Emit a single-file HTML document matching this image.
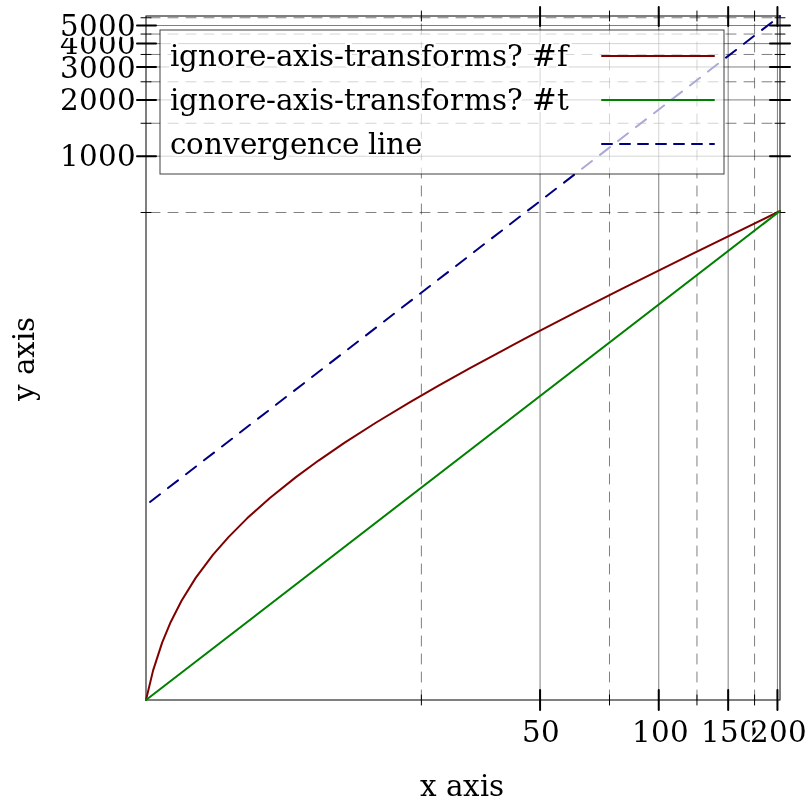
<!DOCTYPE html>
<html><head><meta charset="utf-8"><title>plot</title>
<style>
html,body{margin:0;padding:0;background:#fff;overflow:hidden;}
svg{display:block;}
.t text{font-family:'DejaVu Serif','Liberation Serif',serif;font-size:29.33px;fill:#000;text-shadow:-2px -2px 0 #fff,-2px 0px 0 #fff,-2px 2px 0 #fff,0px -2px 0 #fff,0px 2px 0 #fff,2px -2px 0 #fff,2px 0px 0 #fff,2px 2px 0 #fff;}
</style>
</head><body>
<svg width="812" height="812" viewBox="0 0 812 812">
<rect x="0" y="0" width="812" height="812" fill="#fff"/>
<clipPath id="pc"><rect x="145.0" y="15.0" width="637.0" height="687.0"/></clipPath>
<rect x="146.0" y="16.0" width="634.0" height="684.0" fill="none" stroke="#000" stroke-width="1"/>
<g stroke="#000" stroke-linecap="round">
<line x1="540.07" y1="690.0" x2="540.07" y2="710.0" stroke-width="2"/>
<line x1="540.07" y1="7.0" x2="540.07" y2="26.0" stroke-width="2"/>
<line x1="658.75" y1="690.0" x2="658.75" y2="710.0" stroke-width="2"/>
<line x1="658.75" y1="7.0" x2="658.75" y2="26.0" stroke-width="2"/>
<line x1="728.17" y1="690.0" x2="728.17" y2="710.0" stroke-width="2"/>
<line x1="728.17" y1="7.0" x2="728.17" y2="26.0" stroke-width="2"/>
<line x1="777.43" y1="690.0" x2="777.43" y2="710.0" stroke-width="2"/>
<line x1="777.43" y1="7.0" x2="777.43" y2="26.0" stroke-width="2"/>
<line x1="421.39" y1="695.0" x2="421.39" y2="705.0" stroke-width="1"/>
<line x1="421.39" y1="11.0" x2="421.39" y2="21.0" stroke-width="1"/>
<line x1="609.49" y1="695.0" x2="609.49" y2="705.0" stroke-width="1"/>
<line x1="609.49" y1="11.0" x2="609.49" y2="21.0" stroke-width="1"/>
<line x1="696.96" y1="695.0" x2="696.96" y2="705.0" stroke-width="1"/>
<line x1="696.96" y1="11.0" x2="696.96" y2="21.0" stroke-width="1"/>
<line x1="754.57" y1="695.0" x2="754.57" y2="705.0" stroke-width="1"/>
<line x1="754.57" y1="11.0" x2="754.57" y2="21.0" stroke-width="1"/>
<line x1="137.0" y1="156.20" x2="156.0" y2="156.20" stroke-width="2"/>
<line x1="770.0" y1="156.20" x2="790.0" y2="156.20" stroke-width="2"/>
<line x1="137.0" y1="99.91" x2="156.0" y2="99.91" stroke-width="2"/>
<line x1="770.0" y1="99.91" x2="790.0" y2="99.91" stroke-width="2"/>
<line x1="137.0" y1="66.98" x2="156.0" y2="66.98" stroke-width="2"/>
<line x1="770.0" y1="66.98" x2="790.0" y2="66.98" stroke-width="2"/>
<line x1="137.0" y1="43.62" x2="156.0" y2="43.62" stroke-width="2"/>
<line x1="770.0" y1="43.62" x2="790.0" y2="43.62" stroke-width="2"/>
<line x1="137.0" y1="25.50" x2="156.0" y2="25.50" stroke-width="2"/>
<line x1="770.0" y1="25.50" x2="790.0" y2="25.50" stroke-width="2"/>
<line x1="141.0" y1="212.49" x2="151.0" y2="212.49" stroke-width="1"/>
<line x1="775.0" y1="212.49" x2="785.0" y2="212.49" stroke-width="1"/>
<line x1="141.0" y1="123.27" x2="151.0" y2="123.27" stroke-width="1"/>
<line x1="775.0" y1="123.27" x2="785.0" y2="123.27" stroke-width="1"/>
<line x1="141.0" y1="81.79" x2="151.0" y2="81.79" stroke-width="1"/>
<line x1="775.0" y1="81.79" x2="785.0" y2="81.79" stroke-width="1"/>
<line x1="141.0" y1="54.46" x2="151.0" y2="54.46" stroke-width="1"/>
<line x1="775.0" y1="54.46" x2="785.0" y2="54.46" stroke-width="1"/>
<line x1="141.0" y1="34.05" x2="151.0" y2="34.05" stroke-width="1"/>
<line x1="775.0" y1="34.05" x2="785.0" y2="34.05" stroke-width="1"/>
<line x1="141.0" y1="17.76" x2="151.0" y2="17.76" stroke-width="1"/>
<line x1="775.0" y1="17.76" x2="785.0" y2="17.76" stroke-width="1"/>
</g>
<g class="t">
<text x="522 541" y="742">50</text>
<text x="632 651 670" y="742">100</text>
<text x="701 720 739" y="742">150</text>
<text x="750 769 788" y="742">200</text>
<text x="60 79 98 117" y="54">4000</text>
<text x="60 79 98 117" y="166">1000</text>
<text x="60 79 98 117" y="110">2000</text>
<text x="60 79 98 117" y="78">3000</text>
<text x="60 79 98 117" y="36">5000</text>
<text x="420 437 446 463 480 489" y="796">x axis</text>
<text transform="translate(34 359) rotate(-90)" x="-42 -25 -16 1 18 27" y="0">y axis</text>
</g>
<g clip-path="url(#pc)" fill="none" stroke-linecap="round" stroke-linejoin="round">
<g stroke="#000" stroke-opacity="0.5" stroke-width="1">
<line x1="540.07" y1="16.0" x2="540.07" y2="700.0"/>
<line x1="658.75" y1="16.0" x2="658.75" y2="700.0"/>
<line x1="728.17" y1="16.0" x2="728.17" y2="700.0"/>
<line x1="777.43" y1="16.0" x2="777.43" y2="700.0"/>
<line x1="421.39" y1="16.0" x2="421.39" y2="700.0" stroke-dasharray="10 8" stroke-dashoffset="10"/>
<line x1="609.49" y1="16.0" x2="609.49" y2="700.0" stroke-dasharray="10 8" stroke-dashoffset="10"/>
<line x1="696.96" y1="16.0" x2="696.96" y2="700.0" stroke-dasharray="10 8" stroke-dashoffset="10"/>
<line x1="754.57" y1="16.0" x2="754.57" y2="700.0" stroke-dasharray="10 8" stroke-dashoffset="10"/>
<line x1="146.0" y1="156.20" x2="780.0" y2="156.20"/>
<line x1="146.0" y1="99.91" x2="780.0" y2="99.91"/>
<line x1="146.0" y1="66.98" x2="780.0" y2="66.98"/>
<line x1="146.0" y1="43.62" x2="780.0" y2="43.62"/>
<line x1="146.0" y1="25.50" x2="780.0" y2="25.50"/>
<line x1="146.0" y1="212.49" x2="780.0" y2="212.49" stroke-dasharray="10 8" stroke-dashoffset="14"/>
<line x1="146.0" y1="123.27" x2="780.0" y2="123.27" stroke-dasharray="10 8" stroke-dashoffset="14"/>
<line x1="146.0" y1="81.79" x2="780.0" y2="81.79" stroke-dasharray="10 8" stroke-dashoffset="14"/>
<line x1="146.0" y1="54.46" x2="780.0" y2="54.46" stroke-dasharray="10 8" stroke-dashoffset="14"/>
<line x1="146.0" y1="34.05" x2="780.0" y2="34.05" stroke-dasharray="10 8" stroke-dashoffset="14"/>
<line x1="146.0" y1="17.76" x2="780.0" y2="17.76" stroke-dasharray="10 8" stroke-dashoffset="14"/>
</g>
<path d="M146.00 700.00 L153.11 670.37 L162.14 642.60 L170.73 621.95 L181.54 600.68 L195.68 577.88 L212.88 554.95 L228.50 537.09 L247.34 518.11 L269.88 497.98 L295.94 477.12 L318.55 460.55 L344.70 442.67 L375.79 422.76 L410.04 402.09 L438.57 385.63 L470.44 367.85 L530.02 335.93 L576.89 311.66 L624.33 287.63 L684.79 257.55 L780.00 211.00" stroke="#800000" stroke-width="2"/>
<line x1="146.0" y1="700.0" x2="780.0" y2="211.0" stroke="#008000" stroke-width="2"/>
<line x1="146.0" y1="505.05" x2="780.0" y2="16.0" stroke="#000080" stroke-width="2" stroke-dasharray="12.629 10.104" stroke-dashoffset="17.681"/>
<circle cx="780.0" cy="16.0" r="1" fill="#000080" stroke="none"/>
</g>
<rect x="160" y="30" width="564" height="144" fill="#fff" fill-opacity="0.667" stroke="#000" stroke-opacity="0.75" stroke-width="1"/>
<g class="t">
<text x="170 179 198 217 235 249 266 276 293 310 319 334 344 356 370 387 406 421 432 450 464 492 507 523 532 557" y="66">ignore-axis-transforms? #f</text>
<text x="170 179 198 217 235 249 266 276 293 310 319 334 344 356 370 387 406 421 432 450 464 492 507 523 532 557" y="110">ignore-axis-transforms? #t</text>
<text x="170 186 204 223 240 257 271 290 307 326 342 359 368 377 386 405" y="154">convergence line</text>
</g>
<g fill="none" stroke-linecap="round" stroke-width="2">
<line x1="602" y1="56" x2="714" y2="56" stroke="#800000"/>
<line x1="602" y1="100" x2="714" y2="100" stroke="#008000"/>
<line x1="602" y1="144" x2="714" y2="144" stroke="#000080" stroke-dasharray="10 8"/>
</g>
</svg>
</body></html>
